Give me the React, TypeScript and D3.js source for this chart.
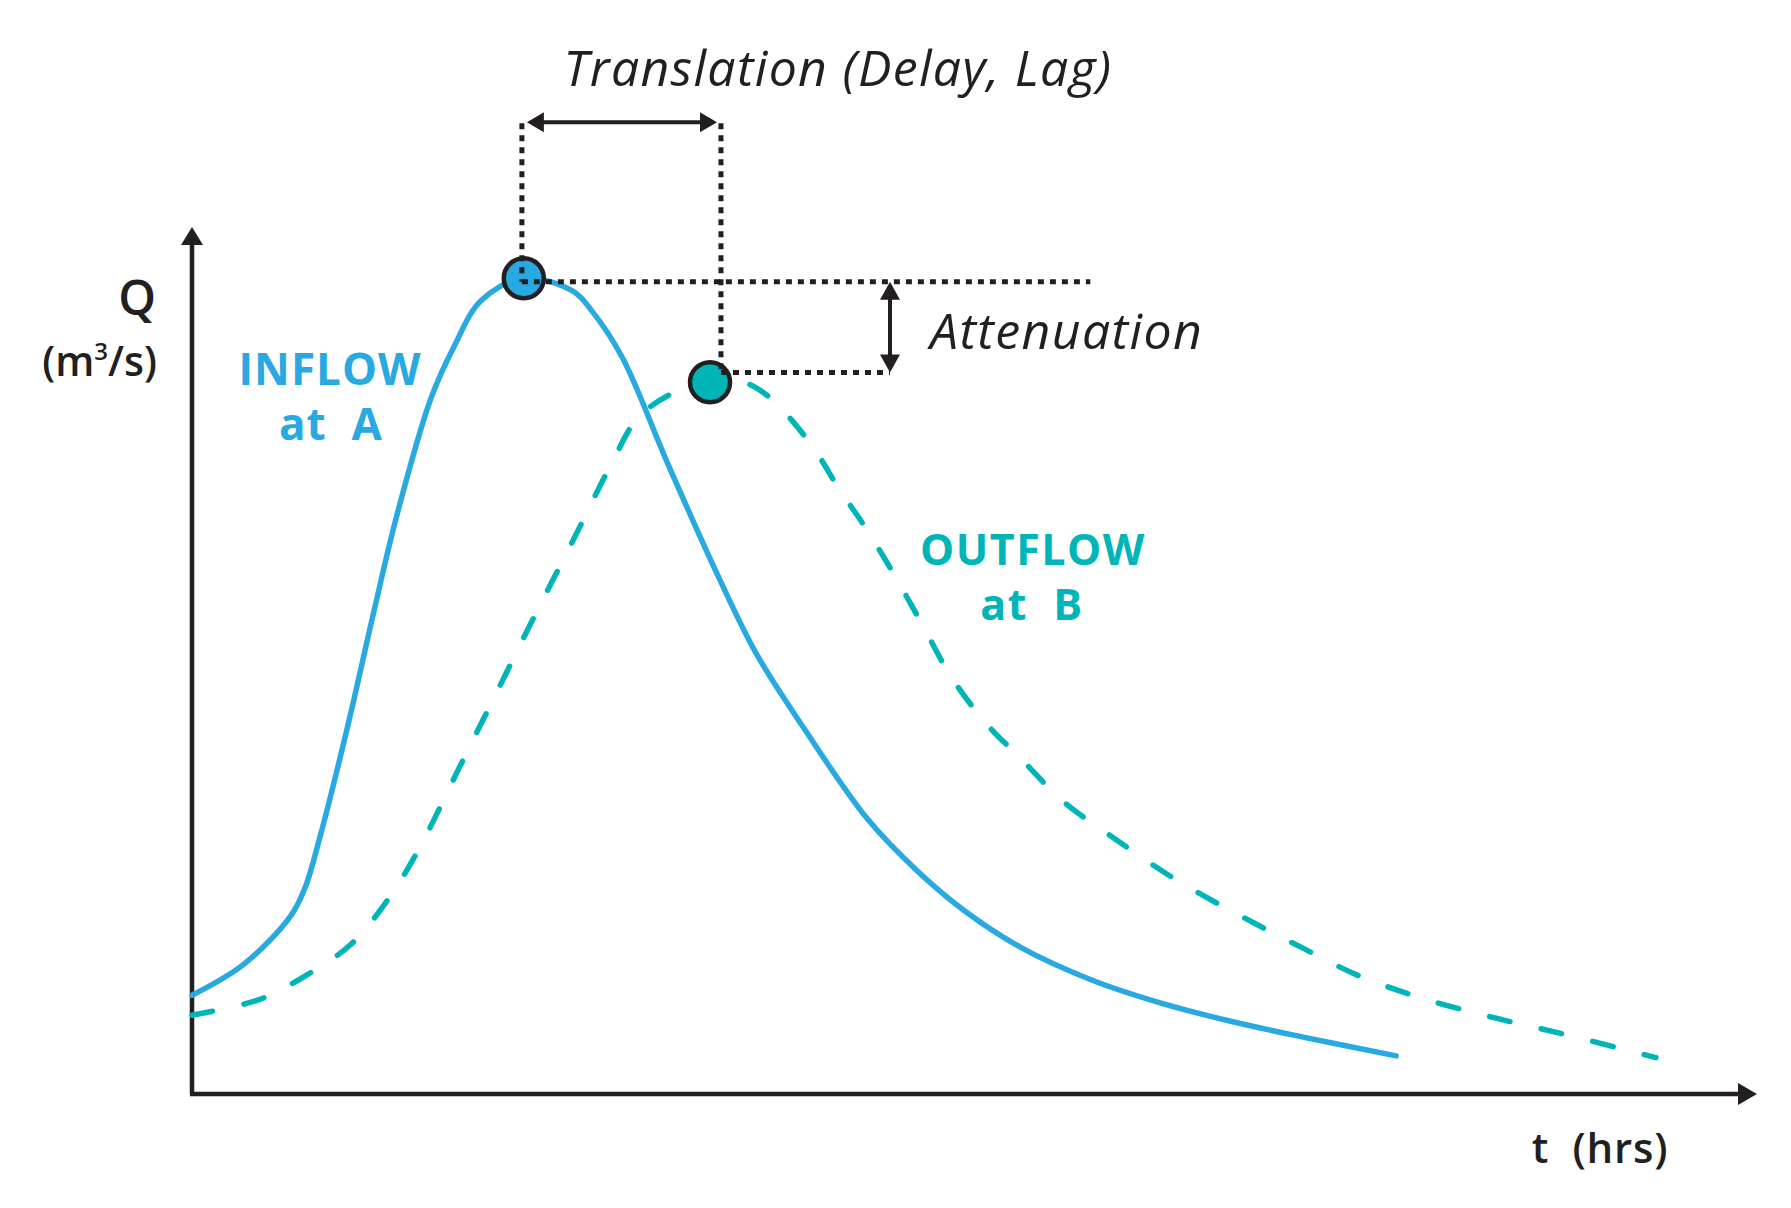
import * as d3 from 'd3'

// hydrograph points: [t (hrs), Q (relative units)]
const inflowPoints: [number, number][] = [
  [0, 11.4], [1.66, 15.0], [3.16, 20.6], [3.61, 23.8], [4.09, 29.7], [4.95, 42.1],
  [5.81, 55.7], [6.55, 66.9], [7.64, 80.4], [8.37, 86.3], [9.23, 91.6], [10.58, 94.2],
  [12.17, 92.7], [12.78, 90.4], [13.74, 85.1], [15.21, 72.7], [16.81, 59.8], [18.02, 50.9],
  [19.52, 42.4], [21.57, 31.8], [23.13, 25.9], [24.7, 21.1], [26.49, 16.9], [28.72, 13.2],
  [30.96, 10.5], [33.19, 8.4], [35.46, 6.6], [38.47, 4.4],
]

const outflowPoints: [number, number][] = [
  [0, 9.1], [2.14, 10.9], [3.74, 13.9], [5.08, 17.3], [6.29, 22.6], [7.28, 28.5],
  [8.5, 37.4], [9.71, 46.2], [10.93, 55.1], [12.17, 63.9], [13.39, 72.7], [14.25, 78.1],
  [15.34, 80.9], [16.55, 82.4], [17.54, 82.3], [18.4, 80.6], [19.74, 75.2], [20.67, 69.9],
  [21.57, 65.1], [22.46, 59.8], [23.36, 54.0], [24.25, 48.2], [25.37, 42.8], [26.49, 38.7],
  [27.83, 33.8], [29.39, 29.7], [31.41, 24.8], [33.64, 20.3], [35.46, 16.9], [37.25, 13.7],
  [39.27, 11.1], [41.5, 8.9], [43.96, 6.8], [46.77, 4.2],
]

// peak markers and the guide lines hanging off them
const peakT = [10.6, 16.55]
const peakQ = [94.2, 82.2]
const guideT = [10.54, 16.9]
const guideQ = [93.8, 83.3]
const guideTopQ = 112.1
const lagArrowQ = 112.2
const attenuationT = 22.3
const levelLineEndT = 28.7

const axisMax = { t: 50, q: 100 }

const BLUE = '#29a9e1'
const TEAL = '#00b5b8'
const INK = '#231f20'
const FONT = "'Open Sans', 'Noto Sans', sans-serif"

const W = 1791
const H = 1208

export default function App() {
  const x = d3.scaleLinear().domain([0, axisMax.t]).range([192, 1757])
  const y = d3.scaleLinear().domain([0, axisMax.q]).range([1094, 228])

  const line = d3.line<[number, number]>()
    .x(d => x(d[0]))
    .y(d => y(d[1]))
    .curve(d3.curveCatmullRom.alpha(0.5))

  const x0 = x(0), y0 = y(0)
  const xEnd = x(axisMax.t), yEnd = y(axisMax.q)

  // little helper for filled arrow heads
  const head = (tx: number, ty: number, dir: 'l' | 'r' | 'u' | 'd', len: number, half: number) => {
    if (dir === 'r') return `M${tx},${ty}L${tx - len},${ty - half}L${tx - len},${ty + half}Z`
    if (dir === 'l') return `M${tx},${ty}L${tx + len},${ty - half}L${tx + len},${ty + half}Z`
    if (dir === 'u') return `M${tx},${ty}L${tx - half},${ty + len}L${tx + half},${ty + len}Z`
    return `M${tx},${ty}L${tx - half},${ty - len}L${tx + half},${ty - len}Z`
  }

  const dotted = { stroke: INK, strokeWidth: 5, strokeDasharray: '6 6', fill: 'none' }

  const lagY = y(lagArrowQ)
  const lagL = x(guideT[0]) + 5
  const lagR = x(guideT[1]) - 4
  const attX = x(attenuationT)
  const attTop = y(guideQ[0])
  const attBot = y(guideQ[1])

  return (
    <svg width={W} height={H} style={{ position: 'absolute', left: 0, top: 0, background: '#fff' }}
      fontFamily={FONT}>
      {/* axes */}
      <line x1={x0} y1={y0} x2={x0} y2={yEnd + 12} stroke={INK} strokeWidth={4.5} />
      <line x1={x0 - 2} y1={y0} x2={xEnd - 12} y2={y0} stroke={INK} strokeWidth={4.5} />
      <path d={head(x0, yEnd - 1, 'u', 18, 11)} fill={INK} />
      <path d={head(xEnd, y0, 'r', 19, 11)} fill={INK} />

      {/* hydrographs */}
      <path d={line(inflowPoints) ?? ''} fill="none" stroke={BLUE} strokeWidth={5.5} strokeLinecap="round" />
      <path d={line(outflowPoints) ?? ''} fill="none" stroke={TEAL} strokeWidth={5.5}
        strokeLinecap="round" strokeDasharray="21 32" />

      {/* peaks */}
      <circle cx={x(peakT[0])} cy={y(peakQ[0])} r={20} fill={BLUE} stroke={INK} strokeWidth={4.5} />
      <circle cx={x(peakT[1])} cy={y(peakQ[1])} r={20} fill={TEAL} stroke={INK} strokeWidth={4.5} />

      {/* guides */}
      <line x1={x(guideT[0])} y1={y(guideTopQ)} x2={x(guideT[0])} y2={y(guideQ[0])} {...dotted} />
      <line x1={x(guideT[1])} y1={y(guideTopQ)} x2={x(guideT[1])} y2={y(guideQ[1])} {...dotted} />
      <line x1={x(guideT[0])} y1={y(guideQ[0])} x2={x(levelLineEndT)} y2={y(guideQ[0])} {...dotted} />
      <line x1={x(guideT[1])} y1={y(guideQ[1])} x2={attX} y2={y(guideQ[1])} {...dotted} />

      {/* translation arrow */}
      <line x1={lagL + 12} y1={lagY} x2={lagR - 12} y2={lagY} stroke={INK} strokeWidth={4} />
      <path d={head(lagL, lagY, 'l', 17, 10)} fill={INK} />
      <path d={head(lagR, lagY, 'r', 17, 10)} fill={INK} />

      {/* attenuation arrow */}
      <line x1={attX} y1={attTop + 12} x2={attX} y2={attBot - 12} stroke={INK} strokeWidth={4} />
      <path d={head(attX, attTop, 'u', 18, 10)} fill={INK} />
      <path d={head(attX, attBot, 'd', 18, 10)} fill={INK} />

      {/* annotation labels */}
      <text x={838} y={86} textAnchor="middle" fontSize={50} fontStyle="italic" letterSpacing={1.3} fill={INK}>
        Translation (Delay, Lag)
      </text>
      <text x={930} y={349} fontSize={50} fontStyle="italic" letterSpacing={1.4} fill={INK}>Attenuation</text>

      {/* axis labels */}
      <text x={156} y={315} textAnchor="end" fontSize={48} fontWeight={600} fill={INK}>Q</text>
      <text x={157} y={376} textAnchor="end" fontSize={41} fontWeight={600} fill={INK}>
        (m<tspan fontSize={24} dy={-16}>3</tspan><tspan dy={16}>/s)</tspan>
      </text>
      <text x={1600} y={1163} textAnchor="middle" fontSize={42} fontWeight={600} letterSpacing={0.8} fill={INK}
        style={{ whiteSpace: 'pre' }}>
        {'t  (hrs)'}
      </text>

      {/* series labels */}
      <text x={330} y={385} textAnchor="middle" fontSize={44} fontWeight={700} letterSpacing={1} fill={BLUE}>INFLOW</text>
      <text x={331} y={440} textAnchor="middle" fontSize={44} fontWeight={700} letterSpacing={1} fill={BLUE}
        style={{ whiteSpace: 'pre' }}>{'at  A'}</text>
      <text x={1033} y={565} textAnchor="middle" fontSize={43} fontWeight={700} letterSpacing={1.5} fill={TEAL}>OUTFLOW</text>
      <text x={1032} y={620} textAnchor="middle" fontSize={43} fontWeight={700} letterSpacing={1.5} fill={TEAL}
        style={{ whiteSpace: 'pre' }}>{'at  B'}</text>
    </svg>
  )
}
